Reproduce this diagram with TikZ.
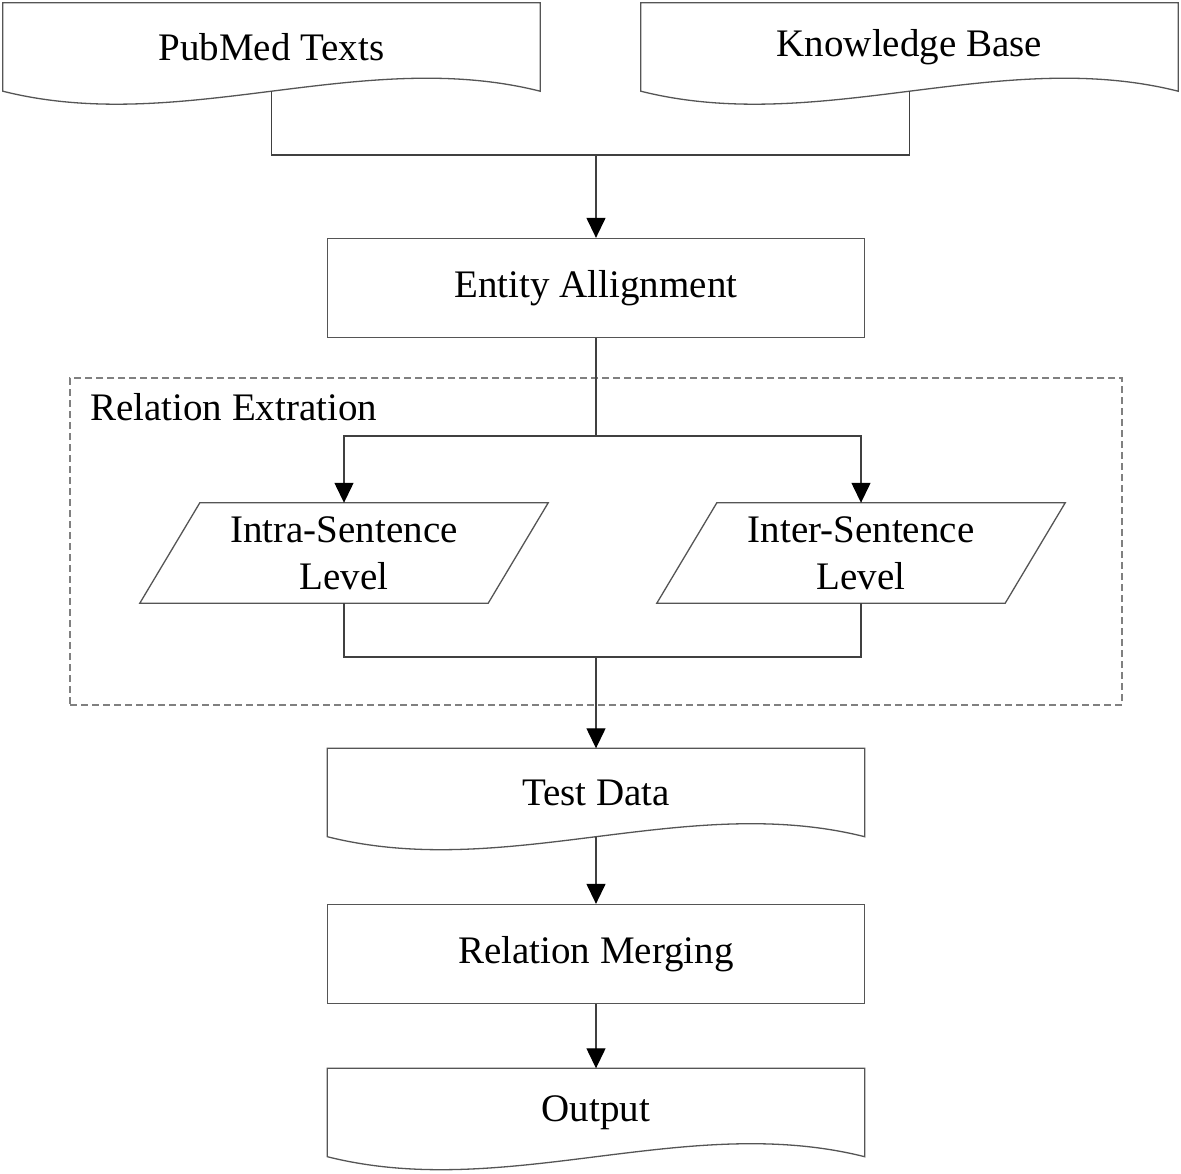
\documentclass[tikz,border=0pt]{standalone}
\usepackage{fontspec}
\setmainfont{Liberation Serif}
\usetikzlibrary{arrows.meta,calc}
\definecolor{linec}{HTML}{404040}
\definecolor{boxc}{HTML}{555555}
\definecolor{dashc}{HTML}{808080}
\newcommand\docoutline[1]{%
  \draw[boxline] (#1.north west) -- (#1.north east) -- (#1.south east)
    .. controls ([shift={(-179,-45)}]#1.south east) and ([shift={(179,45)}]#1.south west) .. (#1.south west) -- cycle;}
\newcommand\paraoutline[1]{%
  \draw[boxline] ([xshift=60pt]#1.north west) -- (#1.north east) -- ([xshift=-60pt]#1.south east) -- (#1.south west) -- cycle;}
\begin{document}
\begin{tikzpicture}[x=1pt,y=-1pt,
  boxline/.style={draw=boxc, line width=1.3pt},
  conn/.style={draw=linec, line width=1.3pt},
  arr/.style={conn, -{Triangle[length=20pt,width=19pt,color=black]}},
  txt/.style={font=\fontsize{39}{47}\selectfont, align=center},
  rectbox/.style={txt, boxline, minimum width=537pt, minimum height=99pt, inner sep=0pt},
  docbox/.style={txt, minimum width=537pt, minimum height=88pt, inner sep=0pt},
  parabox/.style={txt, minimum width=408pt, minimum height=100pt, inner sep=0pt},
  groupbox/.style={draw=dashc, line width=1.2pt, dash pattern=on 7pt off 4pt, minimum width=1052pt, minimum height=327pt, inner sep=0pt}]
\useasboundingbox (0,0) rectangle (1181,1173);
\fill[white] (0,0) rectangle (1181,1173);

% group
\node[groupbox] (grp) at (596,541.5) {};
\node[txt, anchor=base west, inner sep=0pt] (rel) at (90,420) {Relation Extration};

% nodes
\node[docbox] (pub) at (271.5,47) {PubMed Texts};
\node[docbox] (kb) at (909.5,47) {Knowledge Base};
\docoutline{pub}
\docoutline{kb}
\node[rectbox] (ent) at (596,288) {Entity Allignment};
\node[parabox] (intra) at (344,553) {Intra-Sentence\\Level};
\node[parabox] (inter) at (861,553) {Inter-Sentence\\Level};
\paraoutline{intra}
\paraoutline{inter}
\node[docbox] (test) at (596,792.5) {Test Data};
\docoutline{test}
\node[rectbox] (merge) at (596,954) {Relation Merging};
\node[docbox] (out) at (596,1112.5) {Output};
\docoutline{out}

% connectors
\coordinate (j1) at (596,155);
\coordinate (j2) at (596,436);
\coordinate (j3) at (596,657);
\draw[conn] (pub.south) |- (j1);
\draw[conn] (kb.south) |- (j1);
\draw[arr] (j1) -- (ent.north);
\draw[conn] (ent.south) -- (j2);
\draw[arr] (j2) -| (intra.north);
\draw[arr] (j2) -| (inter.north);
\draw[conn] (intra.south) |- (j3);
\draw[conn] (inter.south) |- (j3);
\draw[arr] (j3) -- (test.north);
\draw[arr] (test.south) -- (merge.north);
\draw[arr] (merge.south) -- (out.north);
\end{tikzpicture}
\end{document}
